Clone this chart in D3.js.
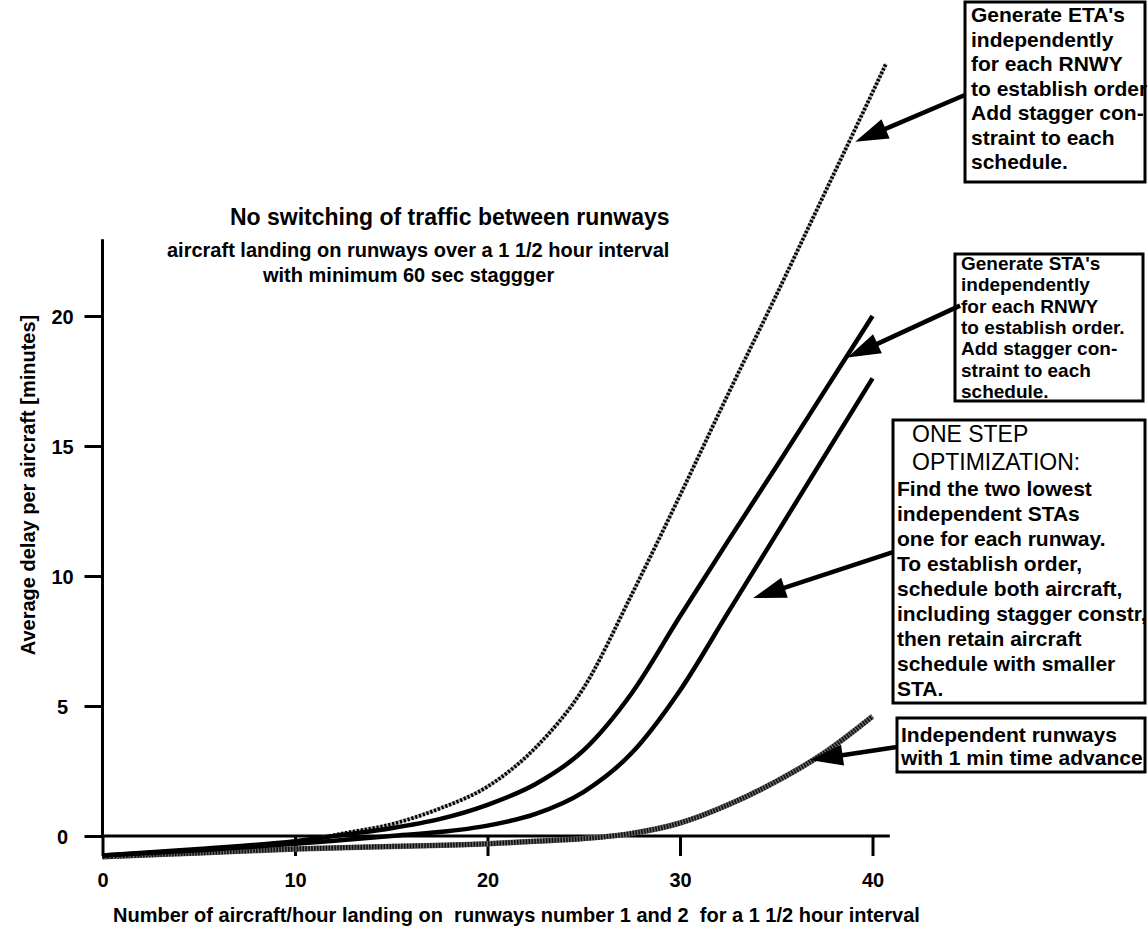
<!DOCTYPE html>
<html><head><meta charset="utf-8">
<script src="https://cdn.jsdelivr.net/npm/d3@7"></script>
<style>
body{margin:0;background:#fff}
svg{display:block}
text{font-family:"Liberation Sans",Arial,Helvetica,sans-serif;fill:#000}
</style></head><body>
<svg id="c" width="1148" height="928"></svg>
<script>
// ---- data ----
const xTicks = [0, 10, 20, 30, 40];
const yTicks = [0, 5, 10, 15, 20];

// Generate ETA's independently ... (dotted)
const etaX = [0, 5, 10, 12.5, 15, 17.5, 20, 22.5, 25, 27.5, 30, 32.5, 35, 37.5, 40, 40.7];
const etaY = [-0.8, -0.55, -0.25, 0.1, 0.45, 1.05, 1.9, 3.4, 5.7, 9.3, 13.1, 17.0, 20.8, 24.7, 28.6, 29.7];
// Generate STA's independently ... (solid, upper)
const staX = [0, 5, 10, 12.5, 15, 17.5, 20, 22.5, 25, 27.5, 30, 32.5, 35, 37.5, 40];
const staY = [-0.75, -0.5, -0.2, 0.05, 0.3, 0.65, 1.2, 2.0, 3.3, 5.5, 8.45, 11.35, 14.2, 17.1, 20.0];
// One step optimization (solid, lower)
const oneX = [0, 5, 10, 12.5, 15, 17.5, 20, 22.5, 25, 27.5, 30, 32.5, 35, 37.5, 40];
const oneY = [-0.75, -0.55, -0.3, -0.15, 0, 0.15, 0.4, 0.85, 1.7, 3.2, 5.6, 8.6, 11.6, 14.6, 17.6];
// Independent runways with 1 min time advance (grey)
const indX = [0, 5, 10, 15, 20, 22.5, 25, 27.5, 30, 32.5, 35, 37.5, 40];
const indY = [-0.8, -0.65, -0.5, -0.4, -0.3, -0.2, -0.1, 0.1, 0.5, 1.2, 2.1, 3.2, 4.6];

const titleText = "No switching of traffic between runways";
const subText = ["aircraft landing on runways over a 1 1/2 hour interval", "with minimum 60 sec staggger"];
const xTitle = "Number of aircraft/hour landing on  runways number 1 and 2  for a 1 1/2 hour interval";
const yTitle = "Average delay per aircraft [minutes]";

const etaText = ["Generate ETA's", "independently", "for each RNWY", "to establish order", "Add stagger con-", "straint to each", "schedule."];
const staText = ["Generate STA's", "independently", "for each RNWY", "to establish order.", "Add stagger con-", "straint to each", "schedule."];
const oneHead = ["ONE STEP", "OPTIMIZATION:"];
const oneText = ["Find the two lowest", "independent STAs", "one for each runway.", "To establish order,", "schedule both aircraft,", "including stagger constr,", "then retain aircraft", "schedule with smaller", "STA."];
const indText = ["Independent runways", "with 1 min time advance"];

// ---- layout ----
const svg = d3.select('#c');
const x = d3.scaleLinear().domain([0, 40]).range([102.5, 872.5]);
const y = d3.scaleLinear().domain([0, 20]).range([836, 316]);
const zip = (a, b) => a.map((v, i) => [v, b[i]]);

// axes
const gx = svg.append('g').attr('transform', `translate(0,${y(0)})`)
  .call(d3.axisBottom(x).tickValues(xTicks).tickSize(20).tickFormat(d3.format('d')));
gx.select('.domain').remove();
gx.selectAll('.tick line').attr('stroke', '#000').attr('stroke-width', 3);
gx.selectAll('.tick text').attr('y', 51).attr('dy', 0)
  .style('font-size', '20px').style('font-weight', 'bold').attr('font-family', null);

const gy = svg.append('g').attr('transform', `translate(${x(0)},0)`)
  .call(d3.axisLeft(y).tickValues(yTicks).tickSize(18).tickFormat(d3.format('d')));
gy.select('.domain').remove();
gy.selectAll('.tick line').attr('stroke', '#000').attr('stroke-width', 3);
gy.selectAll('.tick text').attr('x', -40).attr('dy', '0.36em').attr('text-anchor', 'middle')
  .style('font-size', '20px').style('font-weight', 'bold').attr('font-family', null);

svg.append('line').attr('x1', x(0)).attr('x2', x(40.9)).attr('y1', y(0)).attr('y2', y(0))
  .attr('stroke', '#000').attr('stroke-width', 3);
svg.append('line').attr('x1', x(0)).attr('x2', x(0)).attr('y1', y(0)).attr('y2', y(22.95))
  .attr('stroke', '#000').attr('stroke-width', 3);

// curves
const line = d3.line().x(d => x(d[0])).y(d => y(d[1])).curve(d3.curveMonotoneX);
const curves = svg.append('g').attr('fill', 'none');
// grey hatched
curves.append('path').attr('d', line(zip(indX, indY))).attr('stroke', '#6e6e6e').attr('stroke-width', 5.5);
curves.append('path').attr('d', line(zip(indX, indY))).attr('stroke', '#111').attr('stroke-width', 5)
  .attr('stroke-dasharray', '1.6,1.3');
// dotted
curves.append('path').attr('d', line(zip(etaX, etaY))).attr('stroke', '#b4b4b4').attr('stroke-width', 3.5);
curves.append('path').attr('d', line(zip(etaX, etaY))).attr('stroke', '#000').attr('stroke-width', 3.8)
  .attr('stroke-dasharray', '2.2,1.8');
// solid
curves.append('path').attr('d', line(zip(staX, staY))).attr('stroke', '#000').attr('stroke-width', 4.5);
curves.append('path').attr('d', line(zip(oneX, oneY))).attr('stroke', '#000').attr('stroke-width', 4.5);

// titles
svg.append('text').attr('x', 230).attr('y', 225).style('font-size', '23px').style('font-weight', 'bold').text(titleText);
svg.append('text').attr('x', 167).attr('y', 257).style('font-size', '20px').style('font-weight', 'bold').text(subText[0]);
svg.append('text').attr('x', 263).attr('y', 282).style('font-size', '20px').style('font-weight', 'bold').text(subText[1]);
svg.append('text').attr('x', 113).attr('y', 922).style('font-size', '20px').style('font-weight', 'bold')
  .style('white-space', 'pre').text(xTitle);
svg.append('text').attr('transform', 'translate(35,485) rotate(-90)').attr('text-anchor', 'middle')
  .style('font-size', '20px').style('font-weight', 'bold').text(yTitle);

// annotation boxes
function box(bx, by, bw, bh) {
  svg.append('rect').attr('x', bx).attr('y', by).attr('width', bw).attr('height', bh)
    .attr('fill', '#fff').attr('stroke', '#000').attr('stroke-width', 3);
}
function lines(arr, tx, ty, lh, size, weight) {
  const t = svg.append('text').style('font-size', size + 'px').style('font-weight', weight);
  arr.forEach((s, i) => t.append('tspan').attr('x', tx).attr('y', ty + i * lh).text(s));
}
box(965, 2, 180, 180);   lines(etaText, 971, 22, 24.5, 21, 'bold');
box(955, 254, 188, 147); lines(staText, 961, 270, 21.3, 19, 'bold');
box(893, 420, 252, 283);
lines(oneHead, 912, 442, 28, 23, 'normal');
lines(oneText, 897, 496, 25, 21, 'bold');
box(897, 718, 248, 54);  lines(indText, 901, 742, 23, 21, 'bold');

// arrows (tail in box, tip on curve), in data units
const arrows = [
  {from: [44.8, 28.5], to: [39.1, 26.7]},
  {from: [44.55, 20.4], to: [38.7, 18.4]},
  {from: [41.06, 10.92], to: [33.8, 9.15]},
  {from: [41.27, 3.42], to: [36.75, 2.92]}
];
const ag = svg.append('g');
arrows.forEach(a => {
  const x1 = x(a.from[0]), y1 = y(a.from[1]), x2 = x(a.to[0]), y2 = y(a.to[1]);
  const dx = x2 - x1, dy = y2 - y1, L = Math.hypot(dx, dy), ux = dx / L, uy = dy / L;
  const hl = 33, hw = 10.5;
  const bx = x2 - ux * hl, by = y2 - uy * hl;
  ag.append('line').attr('x1', x1).attr('y1', y1).attr('x2', bx + ux * 2).attr('y2', by + uy * 2)
    .attr('stroke', '#000').attr('stroke-width', 4.5);
  ag.append('polygon').attr('points', [[x2, y2], [bx - uy * hw, by + ux * hw], [bx + uy * hw, by - ux * hw]].map(p => p.join(',')).join(' '))
    .attr('fill', '#000');
});
</script>
</body></html>
